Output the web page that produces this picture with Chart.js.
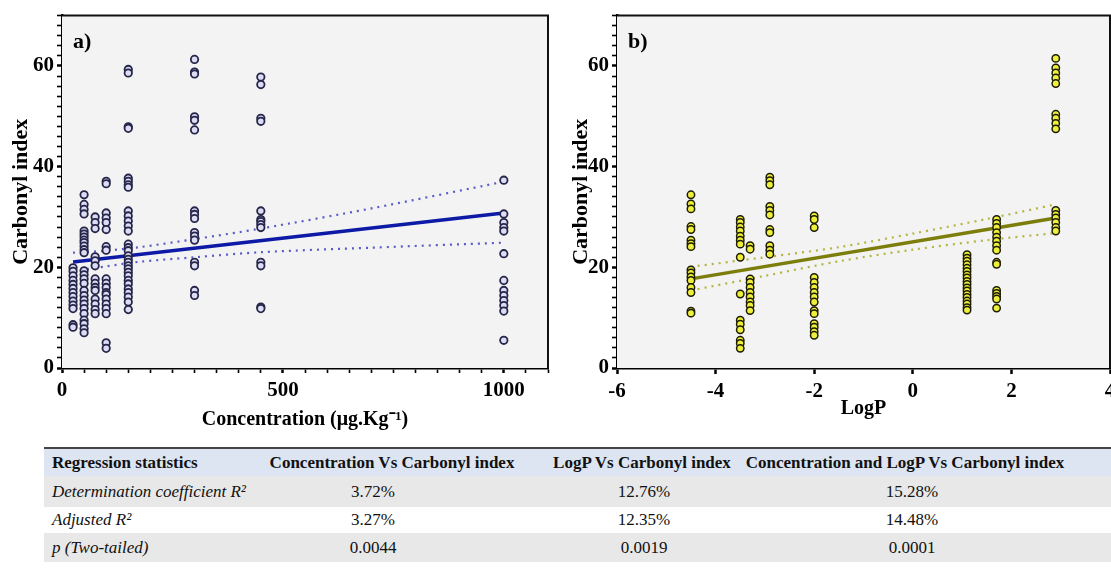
<!DOCTYPE html>
<html>
<head>
<meta charset="utf-8">
<script src="https://cdn.jsdelivr.net/npm/chart.js@4"></script>
<style>
  html, body { margin: 0; padding: 0; background: #fff; overflow: hidden; width: 1111px; height: 569px; }
  #wrapA { position: absolute; left: 0; top: 0; width: 560px; height: 440px; }
  #wrapB { position: absolute; left: 560px; top: 0; width: 570px; height: 440px; }
  .tbl { position: absolute; left: 44px; width: 1067px; font-family: "Liberation Serif", serif; font-size: 17px; color: #111; }
  .row { position: absolute; left: 0; width: 1067px; }
  .row span { position: absolute; white-space: nowrap; }
  .c { transform: translateX(-50%); }
  .hdr { background: #dce5f1; border-top: 2px solid #444; border-bottom: 1.5px solid #333; font-weight: bold; }
  .grey { background: #e8e8e8; }
  .it { font-style: italic; }
</style>
</head>
<body>
<div id="wrapA"><canvas id="chartA"></canvas></div>
<div id="wrapB"><canvas id="chartB"></canvas></div>

<div class="tbl">
  <div class="row hdr" style="top:447px;height:27px;line-height:27px">
    <span style="left:8px">Regression statistics</span>
    <span class="c" style="left:348px">Concentration Vs Carbonyl index</span>
    <span class="c" style="left:598px">LogP Vs Carbonyl index</span>
    <span class="c" style="left:861px">Concentration and LogP Vs Carbonyl index</span>
  </div>
  <div class="row grey" style="top:476px;height:31px;line-height:31px">
    <span class="it" style="left:8px">Determination coefficient R²</span>
    <span class="c" style="left:329px">3.72%</span>
    <span class="c" style="left:600px">12.76%</span>
    <span class="c" style="left:868px">15.28%</span>
  </div>
  <div class="row" style="top:507px;height:26px;line-height:26px">
    <span class="it" style="left:8px">Adjusted R²</span>
    <span class="c" style="left:329px">3.27%</span>
    <span class="c" style="left:600px">12.35%</span>
    <span class="c" style="left:868px">14.48%</span>
  </div>
  <div class="row grey" style="top:533px;height:29px;line-height:29px">
    <span class="it" style="left:8px">p (Two-tailed)</span>
    <span class="c" style="left:329px">0.0044</span>
    <span class="c" style="left:600px">0.0019</span>
    <span class="c" style="left:868px">0.0001</span>
  </div>
</div>

<script>
// ---- data ----
const concLevels = [25, 50, 75, 100, 150, 300, 450, 1000];
const carbonylByConc = [
  [19.9, 19.2, 18.3, 17.4, 16.6, 15.8, 15.0, 14.2, 13.3, 12.5, 11.8, 8.6, 8.1],
  [34.4, 32.5, 31.5, 30.6, 27.2, 26.6, 26.0, 25.4, 24.9, 24.2, 23.5, 22.9, 19.3, 18.5, 17.7, 16.8, 15.4, 14.4, 13.5, 12.7, 11.8, 10.8, 9.5, 8.8, 7.8, 7.0],
  [30.0, 28.9, 27.7, 22.1, 21.3, 20.3, 17.7, 16.8, 16.0, 15.4, 13.7, 12.7, 11.6, 10.8],
  [37.1, 36.6, 30.8, 29.8, 28.9, 27.5, 24.1, 23.4, 17.7, 16.8, 16.0, 15.0, 14.6, 13.7, 12.7, 11.8, 10.8, 5.0, 3.9],
  [59.3, 58.6, 47.9, 47.6, 37.7, 37.1, 36.4, 35.9, 31.2, 30.2, 29.2, 28.2, 27.2, 24.6, 23.9, 23.3, 22.3, 21.6, 21.0, 20.3, 19.7, 19.0, 18.3, 17.4, 16.7, 15.7, 15.0, 14.1, 13.1, 11.6],
  [61.3, 58.8, 58.4, 49.9, 49.2, 47.3, 31.2, 30.5, 29.7, 26.9, 26.2, 25.4, 21.0, 20.3, 15.4, 14.4],
  [57.8, 56.3, 49.6, 49.0, 31.2, 29.5, 29.1, 28.5, 27.9, 21.0, 20.3, 12.1, 11.8],
  [37.3, 30.6, 28.9, 27.9, 27.2, 22.7, 17.4, 15.4, 14.4, 13.4, 12.4, 11.3, 5.5]
];
const fitConcX = [25, 1000];
const fitConcY = [21.05, 30.8];
const bandConcX = [25, 100, 175, 300, 450, 700, 1000];
const bandConcHi = [22.9, 23.3, 24.0, 25.6, 27.7, 31.7, 37.0];
const bandConcLo = [19.2, 20.2, 21.1, 22.0, 23.0, 23.9, 24.9];

const logPLevels = [-4.5, -3.5, -3.3, -2.9, -2, 1.1, 1.7, 2.9];
const carbonylByLogP = [
  [34.4, 32.6, 31.6, 28.1, 27.5, 25.4, 24.7, 24.1, 19.5, 18.9, 18.1, 17.4, 16.0, 15.0, 11.3, 10.9],
  [29.5, 28.9, 28.0, 27.2, 26.2, 25.4, 24.6, 22.0, 14.7, 9.5, 8.7, 7.6, 5.5, 4.9, 3.9],
  [24.3, 23.6, 17.7, 17.0, 16.0, 15.0, 14.1, 13.1, 12.4, 11.4],
  [37.9, 37.2, 36.4, 32.1, 31.3, 30.4, 27.5, 26.9, 24.3, 23.4, 22.6],
  [30.2, 29.5, 27.9, 18.0, 17.0, 16.0, 15.0, 14.1, 13.1, 11.4, 10.8, 8.8, 8.1, 7.2, 6.5],
  [22.5, 21.8, 21.2, 20.5, 19.8, 19.2, 18.5, 17.9, 17.2, 16.6, 15.9, 15.3, 14.6, 14.0, 13.3, 12.7, 12.0, 11.5],
  [29.5, 28.7, 27.9, 26.9, 26.0, 25.2, 24.3, 23.4, 21.0, 20.6, 15.4, 14.8, 14.2, 13.7, 11.9],
  [61.5, 59.6, 58.6, 57.6, 56.5, 50.4, 49.6, 48.6, 47.5, 31.3, 30.5, 29.8, 28.9, 27.9, 27.2]
];
const fitLogPX = [-4.5, 2.9];
const fitLogPY = [17.7, 29.8];
const bandLogPX = [-4.5, -3, -1.5, 0, 1.5, 2.9];
const bandLogPHi = [20.1, 22.0, 24.0, 26.7, 29.6, 32.5];
const bandLogPLo = [15.4, 18.3, 21.2, 23.5, 25.4, 26.8];

// ---- helpers ----
const pts = (xs, ys) => xs.map((x, i) => ({x: x, y: ys[i]}));
const groupPts = (levels, groups) => levels.flatMap((x, i) => groups[i].map(y => ({x: x, y: y})));

const SERIF = '"Liberation Serif", "Times New Roman", serif';
Chart.defaults.font.family = SERIF;
Chart.defaults.font.weight = 'bold';
Chart.defaults.color = '#000';
const tickFont = { family: SERIF, weight: 'bold', size: 21 };

const plotFrame = {
  id: 'plotFrame',
  beforeDatasetsDraw(chart) {
    const a = chart.chartArea, ctx = chart.ctx;
    ctx.save();
    ctx.fillStyle = '#f3f3f3';
    ctx.fillRect(a.left, a.top, a.right - a.left, a.bottom - a.top);
    ctx.restore();
  },
  afterDatasetsDraw(chart, args, opts) {
    const a = chart.chartArea, ctx = chart.ctx;
    ctx.save();
    ctx.strokeStyle = '#111';
    ctx.lineWidth = 2;
    ctx.beginPath();
    ctx.moveTo(a.left, a.top);
    ctx.lineTo(a.right, a.top);
    ctx.lineTo(a.right, a.bottom);
    ctx.stroke();
    ctx.fillStyle = '#000';
    ctx.font = 'bold 22px ' + SERIF;
    ctx.textBaseline = 'alphabetic';
    ctx.fillText(opts.label, a.left + 11, a.top + 32);
    ctx.restore();
  }
};

function yAxis(width) {
  return {
    min: 0, max: 70,
    afterFit: s => { s.width = width; },
    ticks: { stepSize: 2, autoSkip: false, padding: 3, font: tickFont,
             callback: v => (v % 20 === 0 ? v : '') },
    grid: { drawOnChartArea: false, tickLength: 5, tickColor: '#000',
            tickWidth: c => (c.tick && c.tick.value % 20 === 0 ? 2.5 : 1.6) },
    border: { color: '#000', width: 2.5 },
    title: { display: true, text: 'Carbonyl index', font: { family: SERIF, weight: 'bold', size: 22 }, padding: { top: 8 } }
  };
}

function dotted(data, color) {
  return { type: 'line', data: data, borderColor: color, borderWidth: 2.2, borderDash: [2, 5],
           pointRadius: 0, fill: false, tension: 0.3, order: 3 };
}

// ---- chart a ----
new Chart(document.getElementById('chartA'), {
  type: 'scatter',
  data: {
    datasets: [
      { data: groupPts(concLevels, carbonylByConc), pointRadius: 3.7, borderWidth: 1.8,
        borderColor: '#26254a', backgroundColor: '#dcdcf2', order: 1 },
      { type: 'line', data: pts(fitConcX, fitConcY), borderColor: '#0d1aa6', borderWidth: 3.5,
        pointRadius: 0, fill: false, order: 2 },
      dotted(pts(bandConcX, bandConcHi), '#5a5ac8'),
      dotted(pts(bandConcX, bandConcLo), '#5a5ac8')
    ]
  },
  options: {
    responsive: true, maintainAspectRatio: false, animation: false,
    layout: { padding: { top: 14, right: 12, left: 0, bottom: 0 } },
    plugins: { legend: { display: false }, tooltip: { enabled: false }, plotFrame: { label: 'a)' } },
    scales: {
      x: {
        type: 'linear', min: 0, max: 1100,
        afterFit: s => { s.height = 72; },
        ticks: { stepSize: 50, autoSkip: false, maxRotation: 0, padding: 5, font: tickFont,
                 callback: v => (v % 500 === 0 ? v : '') },
        grid: { drawOnChartArea: false, tickLength: 5, tickColor: '#000',
                tickWidth: c => (c.tick && c.tick.value % 500 === 0 ? 2.5 : 1.6) },
        border: { color: '#000', width: 2.5 },
        title: { display: true, text: 'Concentration (μg.Kg⁻¹)', font: { family: SERIF, weight: 'bold', size: 20 }, padding: { bottom: 8 } }
      },
      y: yAxis(62)
    }
  },
  plugins: [plotFrame]
});

// ---- chart b ----
new Chart(document.getElementById('chartB'), {
  type: 'scatter',
  data: {
    datasets: [
      { data: groupPts(logPLevels, carbonylByLogP), pointRadius: 3.7, borderWidth: 1.5,
        borderColor: '#1c1c05', backgroundColor: '#eeee3c', order: 1 },
      { type: 'line', data: pts(fitLogPX, fitLogPY), borderColor: '#7d7d0c', borderWidth: 3.5,
        pointRadius: 0, fill: false, order: 2 },
      dotted(pts(bandLogPX, bandLogPHi), '#b4b440'),
      dotted(pts(bandLogPX, bandLogPLo), '#b4b440')
    ]
  },
  options: {
    responsive: true, maintainAspectRatio: false, animation: false,
    layout: { padding: { top: 13, right: 20, left: 0, bottom: 0 } },
    plugins: { legend: { display: false }, tooltip: { enabled: false }, plotFrame: { label: 'b)' } },
    scales: {
      x: {
        type: 'linear', min: -6, max: 4,
        afterFit: s => { s.height = 72; },
        ticks: { stepSize: 2, autoSkip: false, maxRotation: 0, padding: 5, font: tickFont },
        grid: { drawOnChartArea: false, tickLength: 6, tickColor: '#000', tickWidth: 2.5 },
        border: { color: '#000', width: 2.5 },
        title: { display: true, text: 'LogP', font: { family: SERIF, weight: 'bold', size: 20 }, padding: { bottom: 19 } }
      },
      y: yAxis(57)
    }
  },
  plugins: [plotFrame]
});
</script>
</body>
</html>
